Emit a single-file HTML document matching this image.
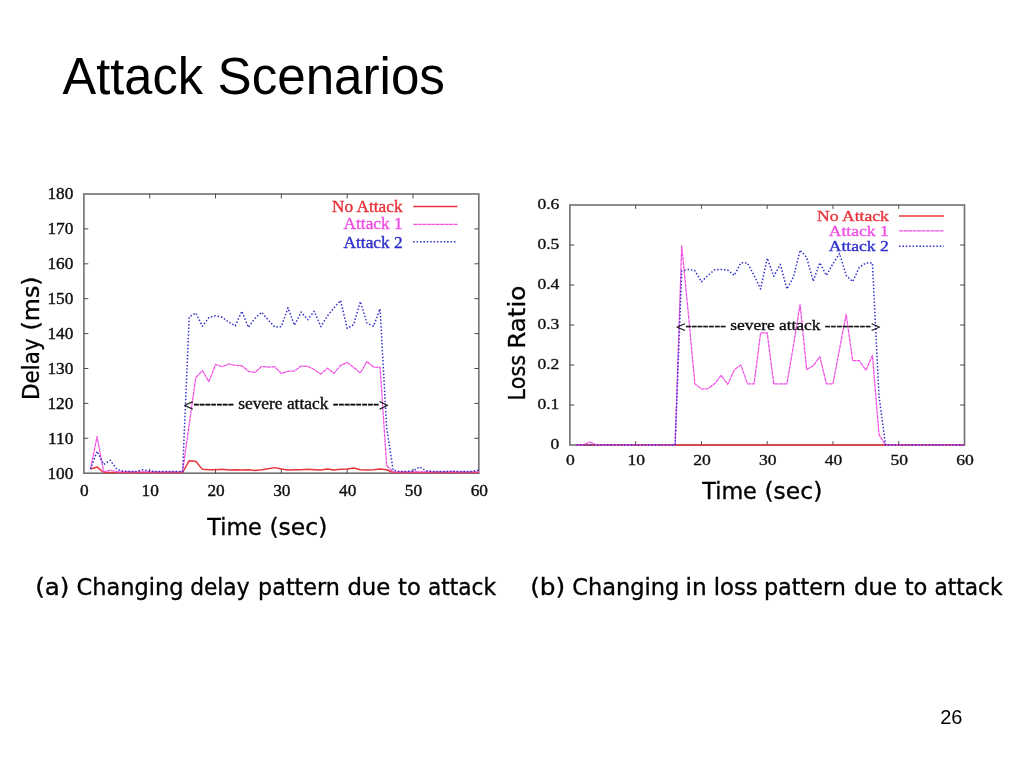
<!DOCTYPE html>
<html lang="en"><head><meta charset="utf-8"><title>Attack Scenarios</title>
<style>html,body{margin:0;padding:0;background:#fff;width:1024px;height:768px;overflow:hidden}svg{display:block;will-change:transform}</style>
</head><body>
<svg width="1024" height="768" viewBox="0 0 1024 768">
<rect width="1024" height="768" fill="#fff"/>
<defs><filter id="soft" x="-2%" y="-2%" width="104%" height="104%"><feGaussianBlur stdDeviation="0.45"/></filter></defs>
<text x="62.60" y="93.70" font-family="'Liberation Sans', 'DejaVu Sans', sans-serif" font-size="51" fill="#000" text-anchor="start" textLength="140.30" lengthAdjust="spacingAndGlyphs">Attack</text>
<text x="217.55" y="93.70" font-family="'Liberation Sans', 'DejaVu Sans', sans-serif" font-size="51" fill="#000" text-anchor="start" textLength="227.40" lengthAdjust="spacingAndGlyphs">Scenarios</text>
<g filter="url(#soft)">
<rect x="83.90" y="194.00" width="394.90" height="279.20" fill="none" stroke="#707070" stroke-width="1.6"/>
<path d="M149.72 473.20v-4.50M149.72 194.00v4.50M215.53 473.20v-4.50M215.53 194.00v4.50M281.35 473.20v-4.50M281.35 194.00v4.50M347.17 473.20v-4.50M347.17 194.00v4.50M412.98 473.20v-4.50M412.98 194.00v4.50M83.90 438.30h4.40M478.80 438.30h-4.40M83.90 403.40h4.40M478.80 403.40h-4.40M83.90 368.50h4.40M478.80 368.50h-4.40M83.90 333.60h4.40M478.80 333.60h-4.40M83.90 298.70h4.40M478.80 298.70h-4.40M83.90 263.80h4.40M478.80 263.80h-4.40M83.90 228.90h4.40M478.80 228.90h-4.40" stroke="#4c4c4c" stroke-width="1" fill="none"/>
<polyline points="90.48,469.01 97.06,466.92 103.65,472.50 110.23,472.50 116.81,472.50 123.39,472.50 129.97,472.50 136.55,472.50 143.13,472.50 149.72,472.50 156.30,472.50 162.88,472.50 169.46,472.50 176.04,472.50 182.62,472.50 189.21,460.64 195.79,461.33 202.37,469.36 208.95,469.71 215.53,469.71 222.12,469.36 228.70,470.06 235.28,469.71 241.86,470.06 248.44,469.71 255.02,470.41 261.61,469.71 268.19,468.66 274.77,467.62 281.35,469.01 287.93,470.06 294.51,469.71 301.10,469.71 307.68,469.36 314.26,469.71 320.84,470.06 327.42,469.01 334.00,470.06 340.59,469.36 347.17,469.01 353.75,467.96 360.33,469.71 366.91,470.06 373.49,469.71 380.08,469.01 386.66,469.71 393.24,472.50 399.82,472.50 406.40,472.50 412.98,472.50 419.56,472.50 426.15,472.50 432.73,472.50 439.31,472.50 445.89,472.50 452.47,472.50 459.05,472.50 465.64,472.50 472.22,472.50 478.80,472.50" fill="none" stroke="#e8343a" stroke-width="1.5" stroke-linejoin="round"/>
<polyline points="90.48,469.01 97.06,436.56 103.65,471.80 110.23,470.06 116.81,471.80 123.39,471.80 129.97,471.80 136.55,471.80 143.13,471.80 149.72,471.80 156.30,471.80 162.88,471.80 169.46,471.80 176.04,471.80 182.62,471.80 189.21,424.34 195.79,377.57 202.37,370.59 208.95,381.76 215.53,364.31 222.12,366.75 228.70,363.96 235.28,365.36 241.86,365.71 248.44,371.29 255.02,372.34 261.61,366.41 268.19,367.10 274.77,366.75 281.35,373.39 287.93,371.29 294.51,370.94 301.10,366.06 307.68,366.41 314.26,369.55 320.84,374.08 327.42,368.15 334.00,373.39 340.59,365.36 347.17,362.57 353.75,367.45 360.33,373.04 366.91,361.52 373.49,367.10 380.08,367.45 386.66,465.52 393.24,472.15 399.82,471.80 406.40,471.80 412.98,471.80 419.56,471.80 426.15,471.80 432.73,471.80 439.31,471.80 445.89,471.80 452.47,471.80 459.05,471.80 465.64,471.80 472.22,471.80 478.80,471.80" fill="none" stroke="#f050e4" stroke-width="1.25" stroke-linejoin="round" stroke-dasharray="4 0.5"/>
<polyline points="90.48,469.01 97.06,451.21 103.65,464.47 110.23,460.29 116.81,469.36 123.39,471.11 129.97,471.45 136.55,471.45 143.13,469.71 149.72,471.11 156.30,471.45 162.88,471.45 169.46,471.45 176.04,471.45 182.62,471.45 189.21,316.85 195.79,313.01 202.37,326.27 208.95,317.55 215.53,315.80 222.12,317.20 228.70,322.08 235.28,325.92 241.86,311.26 248.44,327.32 255.02,318.24 261.61,312.31 268.19,319.99 274.77,326.97 281.35,326.62 287.93,307.77 294.51,325.22 301.10,311.96 307.68,319.64 314.26,311.26 320.84,326.62 327.42,315.80 334.00,307.77 340.59,300.44 347.17,328.37 353.75,324.53 360.33,301.49 366.91,323.13 373.49,326.27 380.08,308.82 386.66,427.83 393.24,470.41 399.82,471.45 406.40,471.45 412.98,471.11 419.56,466.92 426.15,470.76 432.73,471.45 439.31,471.45 445.89,471.45 452.47,471.11 459.05,471.45 465.64,471.45 472.22,471.45 478.80,470.06" fill="none" stroke="#3030cc" stroke-width="1.5" stroke-linejoin="round" stroke-dasharray="1.5 1.9"/>
<text x="73.40" y="478.60" font-family="'Liberation Serif', 'DejaVu Serif', serif" font-size="17.3" fill="#111" text-anchor="end" stroke="#111" stroke-width="0.4">100</text>
<text x="73.40" y="443.70" font-family="'Liberation Serif', 'DejaVu Serif', serif" font-size="17.3" fill="#111" text-anchor="end" stroke="#111" stroke-width="0.4">110</text>
<text x="73.40" y="408.80" font-family="'Liberation Serif', 'DejaVu Serif', serif" font-size="17.3" fill="#111" text-anchor="end" stroke="#111" stroke-width="0.4">120</text>
<text x="73.40" y="373.90" font-family="'Liberation Serif', 'DejaVu Serif', serif" font-size="17.3" fill="#111" text-anchor="end" stroke="#111" stroke-width="0.4">130</text>
<text x="73.40" y="339.00" font-family="'Liberation Serif', 'DejaVu Serif', serif" font-size="17.3" fill="#111" text-anchor="end" stroke="#111" stroke-width="0.4">140</text>
<text x="73.40" y="304.10" font-family="'Liberation Serif', 'DejaVu Serif', serif" font-size="17.3" fill="#111" text-anchor="end" stroke="#111" stroke-width="0.4">150</text>
<text x="73.40" y="269.20" font-family="'Liberation Serif', 'DejaVu Serif', serif" font-size="17.3" fill="#111" text-anchor="end" stroke="#111" stroke-width="0.4">160</text>
<text x="73.40" y="234.30" font-family="'Liberation Serif', 'DejaVu Serif', serif" font-size="17.3" fill="#111" text-anchor="end" stroke="#111" stroke-width="0.4">170</text>
<text x="73.40" y="199.40" font-family="'Liberation Serif', 'DejaVu Serif', serif" font-size="17.3" fill="#111" text-anchor="end" stroke="#111" stroke-width="0.4">180</text>
<text x="84.40" y="495.50" font-family="'Liberation Serif', 'DejaVu Serif', serif" font-size="17.3" fill="#111" text-anchor="middle" stroke="#111" stroke-width="0.4">0</text>
<text x="150.22" y="495.50" font-family="'Liberation Serif', 'DejaVu Serif', serif" font-size="17.3" fill="#111" text-anchor="middle" stroke="#111" stroke-width="0.4">10</text>
<text x="216.03" y="495.50" font-family="'Liberation Serif', 'DejaVu Serif', serif" font-size="17.3" fill="#111" text-anchor="middle" stroke="#111" stroke-width="0.4">20</text>
<text x="281.85" y="495.50" font-family="'Liberation Serif', 'DejaVu Serif', serif" font-size="17.3" fill="#111" text-anchor="middle" stroke="#111" stroke-width="0.4">30</text>
<text x="347.67" y="495.50" font-family="'Liberation Serif', 'DejaVu Serif', serif" font-size="17.3" fill="#111" text-anchor="middle" stroke="#111" stroke-width="0.4">40</text>
<text x="413.48" y="495.50" font-family="'Liberation Serif', 'DejaVu Serif', serif" font-size="17.3" fill="#111" text-anchor="middle" stroke="#111" stroke-width="0.4">50</text>
<text x="479.30" y="495.50" font-family="'Liberation Serif', 'DejaVu Serif', serif" font-size="17.3" fill="#111" text-anchor="middle" stroke="#111" stroke-width="0.4">60</text>
<text x="402.60" y="212.10" font-family="'Liberation Serif', 'DejaVu Serif', serif" font-size="17.3" fill="#e8343a" text-anchor="end" stroke="#e8343a" stroke-width="0.4">No Attack</text>
<text x="402.60" y="229.30" font-family="'Liberation Serif', 'DejaVu Serif', serif" font-size="17.3" fill="#f050e4" text-anchor="end" stroke="#f050e4" stroke-width="0.4">Attack 1</text>
<text x="402.60" y="247.60" font-family="'Liberation Serif', 'DejaVu Serif', serif" font-size="17.3" fill="#3030cc" text-anchor="end" stroke="#3030cc" stroke-width="0.4">Attack 2</text>
<line x1="413.2" y1="206.4" x2="457.4" y2="206.4" stroke="#e8343a" stroke-width="1.5"/>
<line x1="413.2" y1="224.4" x2="457.4" y2="224.4" stroke="#f050e4" stroke-width="1.25" stroke-dasharray="4 0.5"/>
<line x1="413.2" y1="241.8" x2="457.4" y2="241.8" stroke="#3030cc" stroke-width="1.5" stroke-dasharray="1.5 1.9"/>
<text transform="translate(183.60 408.80) scale(1 1.0)" font-family="'Liberation Serif', 'DejaVu Serif', serif" font-size="17.3" fill="#111" stroke="#111" stroke-width="0.4" textLength="205.20" lengthAdjust="spacingAndGlyphs" xml:space="preserve" style="white-space:pre"><tspan dy="2.40">&lt;</tspan><tspan dy="-1.90">-------</tspan><tspan dy="-0.50"> severe attack </tspan><tspan dy="0.50">--------</tspan><tspan dy="1.90">&gt;</tspan></text>
<rect x="569.90" y="205.00" width="394.60" height="240.00" fill="none" stroke="#707070" stroke-width="1.6"/>
<path d="M635.67 445.00v-3.87M635.67 205.00v3.87M701.43 445.00v-3.87M701.43 205.00v3.87M767.20 445.00v-3.87M767.20 205.00v3.87M832.97 445.00v-3.87M832.97 205.00v3.87M898.73 445.00v-3.87M898.73 205.00v3.87M569.90 405.00h4.40M964.50 405.00h-4.40M569.90 365.00h4.40M964.50 365.00h-4.40M569.90 325.00h4.40M964.50 325.00h-4.40M569.90 285.00h4.40M964.50 285.00h-4.40M569.90 245.00h4.40M964.50 245.00h-4.40" stroke="#4c4c4c" stroke-width="1" fill="none"/>
<polyline points="576.48,445.00 583.05,445.00 589.63,445.00 596.21,445.00 602.78,445.00 609.36,445.00 615.94,445.00 622.51,445.00 629.09,445.00 635.67,445.00 642.24,445.00 648.82,445.00 655.40,445.00 661.97,445.00 668.55,445.00 675.13,445.00 681.70,445.00 688.28,445.00 694.86,445.00 701.43,445.00 708.01,445.00 714.59,445.00 721.16,445.00 727.74,445.00 734.32,445.00 740.89,445.00 747.47,445.00 754.05,445.00 760.62,445.00 767.20,445.00 773.78,445.00 780.35,445.00 786.93,445.00 793.51,445.00 800.08,445.00 806.66,445.00 813.24,445.00 819.81,445.00 826.39,445.00 832.97,445.00 839.54,445.00 846.12,445.00 852.70,445.00 859.27,445.00 865.85,445.00 872.43,445.00 879.00,445.00 885.58,445.00 892.16,445.00 898.73,445.00 905.31,445.00 911.89,445.00 918.46,445.00 925.04,445.00 931.62,445.00 938.19,445.00 944.77,445.00 951.35,445.00 957.92,445.00 964.50,445.00" fill="none" stroke="#e8343a" stroke-width="1.5" stroke-linejoin="round"/>
<polyline points="576.48,445.00 583.05,445.00 589.63,441.80 596.21,445.00 602.78,445.00 609.36,445.00 615.94,445.00 622.51,445.00 629.09,445.00 635.67,445.00 642.24,445.00 648.82,445.00 655.40,445.00 661.97,445.00 668.55,445.00 675.13,445.00 681.70,245.80 688.28,313.00 694.86,383.80 701.43,389.00 708.01,388.60 714.59,383.80 721.16,375.40 727.74,384.36 734.32,369.80 740.89,365.00 747.47,383.80 754.05,383.80 760.62,332.80 767.20,332.80 773.78,383.80 780.35,383.80 786.93,383.80 793.51,345.00 800.08,304.60 806.66,369.40 813.24,365.80 819.81,356.60 826.39,383.80 832.97,383.80 839.54,349.00 846.12,314.40 852.70,360.60 859.27,360.60 865.85,370.20 872.43,355.40 879.00,434.60 885.58,445.00 892.16,445.00 898.73,445.00 905.31,445.00 911.89,445.00 918.46,445.00 925.04,445.00 931.62,445.00 938.19,445.00 944.77,445.00 951.35,445.00 957.92,445.00 964.50,445.00" fill="none" stroke="#f050e4" stroke-width="1.25" stroke-linejoin="round" stroke-dasharray="4 0.5"/>
<polyline points="576.48,445.00 583.05,445.00 589.63,445.00 596.21,445.00 602.78,445.00 609.36,445.00 615.94,445.00 622.51,445.00 629.09,445.00 635.67,445.00 642.24,445.00 648.82,445.00 655.40,445.00 661.97,445.00 668.55,445.00 675.13,445.00 681.70,271.00 688.28,269.40 694.86,270.60 701.43,281.80 708.01,275.40 714.59,269.80 721.16,269.40 727.74,270.20 734.32,275.40 740.89,262.80 747.47,263.00 754.05,275.40 760.62,289.00 767.20,258.20 773.78,276.20 780.35,264.40 786.93,289.00 793.51,277.00 800.08,250.20 806.66,257.40 813.24,281.20 819.81,262.80 826.39,275.40 832.97,263.60 839.54,253.40 846.12,275.40 852.70,281.60 859.27,267.40 865.85,263.00 872.43,263.00 879.00,395.80 885.58,445.00 892.16,445.00 898.73,445.00 905.31,445.00 911.89,445.00 918.46,445.00 925.04,445.00 931.62,445.00 938.19,445.00 944.77,445.00 951.35,445.00 957.92,445.00 964.50,445.00" fill="none" stroke="#3030cc" stroke-width="1.5" stroke-linejoin="round" stroke-dasharray="1.5 1.9"/>
<text transform="translate(559.40 449.43) scale(1 0.82)" font-family="'Liberation Serif', 'DejaVu Serif', serif" font-size="17.6" fill="#111" text-anchor="end" stroke="#111" stroke-width="0.4">0</text>
<text transform="translate(559.40 409.43) scale(1 0.82)" font-family="'Liberation Serif', 'DejaVu Serif', serif" font-size="17.6" fill="#111" text-anchor="end" stroke="#111" stroke-width="0.4">0.1</text>
<text transform="translate(559.40 369.43) scale(1 0.82)" font-family="'Liberation Serif', 'DejaVu Serif', serif" font-size="17.6" fill="#111" text-anchor="end" stroke="#111" stroke-width="0.4">0.2</text>
<text transform="translate(559.40 329.43) scale(1 0.82)" font-family="'Liberation Serif', 'DejaVu Serif', serif" font-size="17.6" fill="#111" text-anchor="end" stroke="#111" stroke-width="0.4">0.3</text>
<text transform="translate(559.40 289.43) scale(1 0.82)" font-family="'Liberation Serif', 'DejaVu Serif', serif" font-size="17.6" fill="#111" text-anchor="end" stroke="#111" stroke-width="0.4">0.4</text>
<text transform="translate(559.40 249.43) scale(1 0.82)" font-family="'Liberation Serif', 'DejaVu Serif', serif" font-size="17.6" fill="#111" text-anchor="end" stroke="#111" stroke-width="0.4">0.5</text>
<text transform="translate(559.40 209.43) scale(1 0.82)" font-family="'Liberation Serif', 'DejaVu Serif', serif" font-size="17.6" fill="#111" text-anchor="end" stroke="#111" stroke-width="0.4">0.6</text>
<text transform="translate(570.40 465.00) scale(1 0.82)" font-family="'Liberation Serif', 'DejaVu Serif', serif" font-size="17.6" fill="#111" text-anchor="middle" stroke="#111" stroke-width="0.4">0</text>
<text transform="translate(636.17 465.00) scale(1 0.82)" font-family="'Liberation Serif', 'DejaVu Serif', serif" font-size="17.6" fill="#111" text-anchor="middle" stroke="#111" stroke-width="0.4">10</text>
<text transform="translate(701.93 465.00) scale(1 0.82)" font-family="'Liberation Serif', 'DejaVu Serif', serif" font-size="17.6" fill="#111" text-anchor="middle" stroke="#111" stroke-width="0.4">20</text>
<text transform="translate(767.70 465.00) scale(1 0.82)" font-family="'Liberation Serif', 'DejaVu Serif', serif" font-size="17.6" fill="#111" text-anchor="middle" stroke="#111" stroke-width="0.4">30</text>
<text transform="translate(833.47 465.00) scale(1 0.82)" font-family="'Liberation Serif', 'DejaVu Serif', serif" font-size="17.6" fill="#111" text-anchor="middle" stroke="#111" stroke-width="0.4">40</text>
<text transform="translate(899.23 465.00) scale(1 0.82)" font-family="'Liberation Serif', 'DejaVu Serif', serif" font-size="17.6" fill="#111" text-anchor="middle" stroke="#111" stroke-width="0.4">50</text>
<text transform="translate(965.00 465.00) scale(1 0.82)" font-family="'Liberation Serif', 'DejaVu Serif', serif" font-size="17.6" fill="#111" text-anchor="middle" stroke="#111" stroke-width="0.4">60</text>
<text transform="translate(888.80 220.70) scale(1 0.82)" font-family="'Liberation Serif', 'DejaVu Serif', serif" font-size="17.6" fill="#e8343a" text-anchor="end" stroke="#e8343a" stroke-width="0.4">No Attack</text>
<text transform="translate(888.80 235.80) scale(1 0.82)" font-family="'Liberation Serif', 'DejaVu Serif', serif" font-size="17.6" fill="#f050e4" text-anchor="end" stroke="#f050e4" stroke-width="0.4">Attack 1</text>
<text transform="translate(888.80 251.00) scale(1 0.82)" font-family="'Liberation Serif', 'DejaVu Serif', serif" font-size="17.6" fill="#3030cc" text-anchor="end" stroke="#3030cc" stroke-width="0.4">Attack 2</text>
<line x1="899.0" y1="216.0" x2="943.8" y2="216.0" stroke="#e8343a" stroke-width="1.5"/>
<line x1="899.0" y1="230.9" x2="943.8" y2="230.9" stroke="#f050e4" stroke-width="1.25" stroke-dasharray="4 0.5"/>
<line x1="899.0" y1="246.2" x2="943.8" y2="246.2" stroke="#3030cc" stroke-width="1.5" stroke-dasharray="1.5 1.9"/>
<text transform="translate(675.70 329.60) scale(1 0.82)" font-family="'Liberation Serif', 'DejaVu Serif', serif" font-size="17.6" fill="#111" stroke="#111" stroke-width="0.4" textLength="205.20" lengthAdjust="spacingAndGlyphs" xml:space="preserve" style="white-space:pre"><tspan dy="2.93">&lt;</tspan><tspan dy="-2.32">-------</tspan><tspan dy="-0.61"> severe attack </tspan><tspan dy="0.61">--------</tspan><tspan dy="2.32">&gt;</tspan></text>
</g>
<text x="207.24" y="535.00" font-family="'DejaVu Sans', 'Liberation Sans', sans-serif" font-size="23.6" fill="#000" text-anchor="start" textLength="54.61" lengthAdjust="spacingAndGlyphs" stroke="#000" stroke-width="0.35">Time</text>
<text x="269.46" y="535.00" font-family="'DejaVu Sans', 'Liberation Sans', sans-serif" font-size="23.6" fill="#000" text-anchor="start" textLength="57.88" lengthAdjust="spacingAndGlyphs" stroke="#000" stroke-width="0.35">(sec)</text>
<text x="702.24" y="499.30" font-family="'DejaVu Sans', 'Liberation Sans', sans-serif" font-size="23.6" fill="#000" text-anchor="start" textLength="54.61" lengthAdjust="spacingAndGlyphs" stroke="#000" stroke-width="0.35">Time</text>
<text x="764.46" y="499.30" font-family="'DejaVu Sans', 'Liberation Sans', sans-serif" font-size="23.6" fill="#000" text-anchor="start" textLength="57.88" lengthAdjust="spacingAndGlyphs" stroke="#000" stroke-width="0.35">(sec)</text>
<text transform="translate(38.75 399.95) rotate(-90)" font-family="'DejaVu Sans', 'Liberation Sans', sans-serif" font-size="23.6" fill="#000" stroke="#000" stroke-width="0.35" textLength="61.58" lengthAdjust="spacingAndGlyphs">Delay</text>
<text transform="translate(38.75 330.52) rotate(-90)" font-family="'DejaVu Sans', 'Liberation Sans', sans-serif" font-size="23.6" fill="#000" stroke="#000" stroke-width="0.35" textLength="54.17" lengthAdjust="spacingAndGlyphs">(ms)</text>
<text transform="translate(525.4 400.48) rotate(-90)" font-family="'DejaVu Sans', 'Liberation Sans', sans-serif" font-size="23.6" fill="#000" stroke="#000" stroke-width="0.35" textLength="45.56" lengthAdjust="spacingAndGlyphs">Loss</text>
<text transform="translate(525.4 348.85) rotate(-90)" font-family="'DejaVu Sans', 'Liberation Sans', sans-serif" font-size="23.6" fill="#000" stroke="#000" stroke-width="0.35" textLength="63.28" lengthAdjust="spacingAndGlyphs">Ratio</text>
<text x="35.18" y="595.00" font-family="'DejaVu Sans', 'Liberation Sans', sans-serif" font-size="23.6" fill="#000" text-anchor="start" textLength="34.28" lengthAdjust="spacingAndGlyphs" stroke="#000" stroke-width="0.35">(a)</text>
<text x="76.51" y="595.00" font-family="'DejaVu Sans', 'Liberation Sans', sans-serif" font-size="23.6" fill="#000" text-anchor="start" textLength="107.06" lengthAdjust="spacingAndGlyphs" stroke="#000" stroke-width="0.35">Changing</text>
<text x="190.15" y="595.00" font-family="'DejaVu Sans', 'Liberation Sans', sans-serif" font-size="23.6" fill="#000" text-anchor="start" textLength="59.38" lengthAdjust="spacingAndGlyphs" stroke="#000" stroke-width="0.35">delay</text>
<text x="258.11" y="595.00" font-family="'DejaVu Sans', 'Liberation Sans', sans-serif" font-size="23.6" fill="#000" text-anchor="start" textLength="81.83" lengthAdjust="spacingAndGlyphs" stroke="#000" stroke-width="0.35">pattern</text>
<text x="347.39" y="595.00" font-family="'DejaVu Sans', 'Liberation Sans', sans-serif" font-size="23.6" fill="#000" text-anchor="start" textLength="42.97" lengthAdjust="spacingAndGlyphs" stroke="#000" stroke-width="0.35">due</text>
<text x="398.12" y="595.00" font-family="'DejaVu Sans', 'Liberation Sans', sans-serif" font-size="23.6" fill="#000" text-anchor="start" textLength="22.72" lengthAdjust="spacingAndGlyphs" stroke="#000" stroke-width="0.35">to</text>
<text x="427.95" y="595.00" font-family="'DejaVu Sans', 'Liberation Sans', sans-serif" font-size="23.6" fill="#000" text-anchor="start" textLength="68.08" lengthAdjust="spacingAndGlyphs" stroke="#000" stroke-width="0.35">attack</text>
<text x="530.16" y="595.00" font-family="'DejaVu Sans', 'Liberation Sans', sans-serif" font-size="23.6" fill="#000" text-anchor="start" textLength="35.13" lengthAdjust="spacingAndGlyphs" stroke="#000" stroke-width="0.35">(b)</text>
<text x="572.21" y="595.00" font-family="'DejaVu Sans', 'Liberation Sans', sans-serif" font-size="23.6" fill="#000" text-anchor="start" textLength="107.06" lengthAdjust="spacingAndGlyphs" stroke="#000" stroke-width="0.35">Changing</text>
<text x="685.53" y="595.00" font-family="'DejaVu Sans', 'Liberation Sans', sans-serif" font-size="23.6" fill="#000" text-anchor="start" textLength="21.21" lengthAdjust="spacingAndGlyphs" stroke="#000" stroke-width="0.35">in</text>
<text x="713.67" y="595.00" font-family="'DejaVu Sans', 'Liberation Sans', sans-serif" font-size="23.6" fill="#000" text-anchor="start" textLength="43.97" lengthAdjust="spacingAndGlyphs" stroke="#000" stroke-width="0.35">loss</text>
<text x="763.91" y="595.00" font-family="'DejaVu Sans', 'Liberation Sans', sans-serif" font-size="23.6" fill="#000" text-anchor="start" textLength="81.94" lengthAdjust="spacingAndGlyphs" stroke="#000" stroke-width="0.35">pattern</text>
<text x="853.99" y="595.00" font-family="'DejaVu Sans', 'Liberation Sans', sans-serif" font-size="23.6" fill="#000" text-anchor="start" textLength="42.97" lengthAdjust="spacingAndGlyphs" stroke="#000" stroke-width="0.35">due</text>
<text x="904.72" y="595.00" font-family="'DejaVu Sans', 'Liberation Sans', sans-serif" font-size="23.6" fill="#000" text-anchor="start" textLength="22.66" lengthAdjust="spacingAndGlyphs" stroke="#000" stroke-width="0.35">to</text>
<text x="934.45" y="595.00" font-family="'DejaVu Sans', 'Liberation Sans', sans-serif" font-size="23.6" fill="#000" text-anchor="start" textLength="68.18" lengthAdjust="spacingAndGlyphs" stroke="#000" stroke-width="0.35">attack</text>
<text x="940.20" y="724.00" font-family="'Liberation Sans', 'DejaVu Sans', sans-serif" font-size="20" fill="#000" text-anchor="start">26</text>
</svg>
</body></html>
